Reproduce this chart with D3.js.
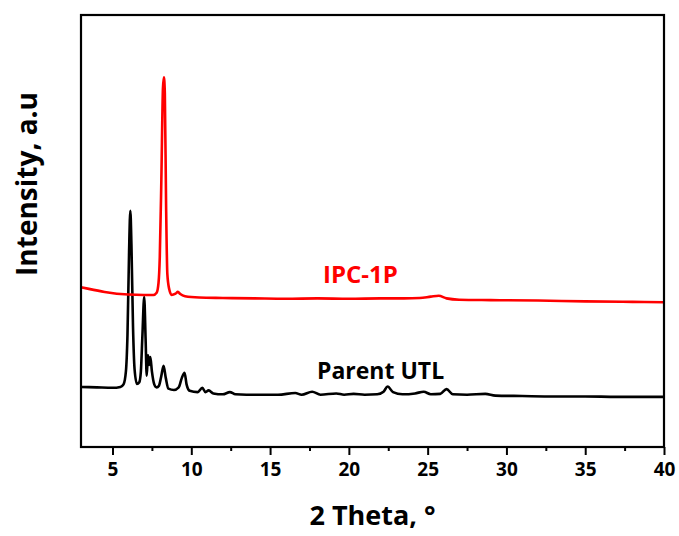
<!DOCTYPE html>
<html>
<head>
<meta charset="utf-8">
<script src="https://cdn.jsdelivr.net/npm/d3@7"></script>
<style>
  html, body { margin: 0; padding: 0; background: #fff; }
  svg { display: block; }
  text { font-family: "Open Sans", "Noto Sans", sans-serif; font-weight: 700; }
</style>
</head>
<body>
<svg id="chart" width="679" height="536"></svg>
<script>
// XRD patterns: 2θ (degrees) and relative intensity (a.u.)
const utlTheta = [3, 4, 5, 5.5, 5.7, 5.85, 5.95, 6.05, 6.13, 6.2, 6.3, 6.4, 6.55, 6.7, 6.8, 6.9, 7.01, 7.1, 7.17, 7.25, 7.32, 7.4, 7.5, 7.65, 7.8, 7.95, 8.1, 8.24, 8.38, 8.55, 8.9, 9.2, 9.4, 9.57, 9.7, 9.9, 10.4, 10.7, 10.9, 11.1, 11.4, 12.0, 12.45, 12.8, 13.5, 14.5, 15.5, 16.6, 17.0, 17.67, 18.2, 19.2, 19.7, 20.3, 21.0, 21.8, 22.2, 22.46, 22.8, 23.4, 24.2, 24.75, 25.2, 25.8, 26.2, 26.6, 27.5, 28.66, 29.3, 31, 33, 35, 37, 40];
const utlInt   = [139, 138, 137, 139, 145, 175, 260, 450, 547, 470, 280, 180, 146, 150, 175, 260, 347, 250, 165, 213, 190, 208, 175, 145, 138, 142, 165, 188, 160, 135, 132, 138, 160, 172, 145, 130, 127, 137, 127, 131, 124, 122, 127, 122, 121, 121, 121, 125, 121, 128, 121, 124, 121, 123, 121, 122, 128, 140, 127, 122, 124, 128, 122, 123, 134, 122, 121, 123, 119, 118, 117, 117, 116, 116];

const ipcTheta = [3, 3.5, 4.5, 6, 7.0, 7.6, 7.8, 7.92, 8.0, 8.1, 8.2, 8.26, 8.32, 8.4, 8.48, 8.6, 8.75, 9.0, 9.15, 9.3, 9.6, 10.5, 12, 14, 16, 18, 20, 22, 23.5, 24.5, 25.2, 25.7, 26.2, 27, 29, 32, 35, 38, 40];
const ipcInt   = [370, 366, 359, 353, 352, 352, 357, 380, 440, 620, 830, 856, 820, 560, 400, 365, 352, 355, 359, 354, 349, 346, 345, 344, 343, 344, 343, 344, 344, 345, 348, 350, 344, 341, 340, 339, 337, 336, 335];

const xTickValues = [5, 10, 15, 20, 25, 30, 35, 40];
const xMinorTicks = [7.5, 12.5, 17.5, 22.5, 27.5, 32.5, 37.5];

const seriesNames = ["IPC-1P", "Parent UTL"];
const seriesColors = ["#ff0000", "#000000"];

const svg = d3.select("#chart");
const margin = { left: 81, top: 15, right: 679 - 664, bottom: 536 - 447 };
const W = 679 - margin.left - margin.right;
const H = 536 - margin.top - margin.bottom;

const x = d3.scaleLinear().domain([3, 40]).range([margin.left, margin.left + W]);
const y = d3.scaleLinear().domain([0, 1000]).range([margin.top + H, margin.top]);

const line = d3.line()
  .x(d => x(d[0]))
  .y(d => y(d[1]))
  .curve(d3.curveMonotoneX);

const plot = svg.append("g");

// traces
const utl = utlTheta.map((t, i) => [t, utlInt[i]]);
const ipc = ipcTheta.map((t, i) => [t, ipcInt[i]]);

plot.append("path")
  .datum(utl)
  .attr("fill", "none")
  .attr("stroke", seriesColors[1])
  .attr("stroke-width", 2.6)
  .attr("stroke-linejoin", "round")
  .attr("d", line);

plot.append("path")
  .datum(ipc)
  .attr("fill", "none")
  .attr("stroke", seriesColors[0])
  .attr("stroke-width", 2.6)
  .attr("stroke-linejoin", "round")
  .attr("d", line);

// frame
svg.append("rect")
  .attr("x", margin.left)
  .attr("y", margin.top)
  .attr("width", W)
  .attr("height", H)
  .attr("fill", "none")
  .attr("stroke", "#000")
  .attr("stroke-width", 2.2);

// bottom axis, major ticks with labels
const xAxis = d3.axisBottom(x)
  .tickValues(xTickValues)
  .tickSize(8)
  .tickPadding(8)
  .tickFormat(d3.format("d"));

const gx = svg.append("g")
  .attr("transform", `translate(0,${margin.top + H})`)
  .call(xAxis);
gx.select(".domain").remove();
gx.selectAll(".tick line").attr("stroke", "#000").attr("stroke-width", 2);
gx.selectAll(".tick text")
  .attr("fill", "#000")
  .style("font-size", "19px")
  .style("font-weight", 700);

// minor ticks
const gxm = svg.append("g")
  .attr("transform", `translate(0,${margin.top + H})`)
  .call(d3.axisBottom(x).tickValues(xMinorTicks).tickSize(4).tickFormat(""));
gxm.select(".domain").remove();
gxm.selectAll(".tick line").attr("stroke", "#000").attr("stroke-width", 2);

// axis titles
svg.append("text")
  .attr("x", margin.left + W / 2)
  .attr("y", 525)
  .attr("text-anchor", "middle")
  .style("font-size", "27px")
  .text("2 Theta, °");

svg.append("text")
  .attr("transform", "translate(37,184) rotate(-90)")
  .attr("text-anchor", "middle")
  .style("font-size", "28px")
  .text("Intensity, a.u");

// series labels
svg.append("text")
  .attr("x", 323)
  .attr("y", 283)
  .attr("fill", seriesColors[0])
  .style("font-size", "24px")
  .text(seriesNames[0]);

svg.append("text")
  .attr("x", 317)
  .attr("y", 379)
  .attr("fill", seriesColors[1])
  .style("font-size", "23px")
  .text(seriesNames[1]);
</script>
</body>
</html>
